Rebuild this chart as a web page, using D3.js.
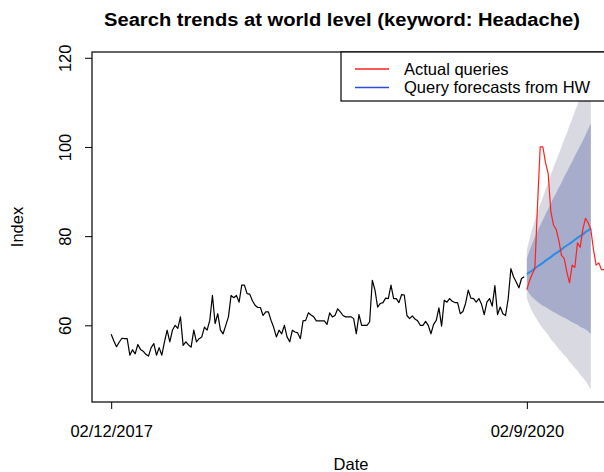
<!DOCTYPE html>
<html>
<head>
<meta charset="utf-8">
<script src="https://cdn.jsdelivr.net/npm/d3@7"></script>
<style>
  html, body { margin: 0; padding: 0; background: #ffffff; }
  svg { display: block; }
  text { font-family: "Liberation Sans", Arial, Helvetica, sans-serif; fill: #000; }
</style>
</head>
<body>
<svg id="chart" width="604" height="472"></svg>
<script>
// Weekly search index (keyword: Headache), weeks counted from 02/12/2017
const historyValues = [
  58, 56.5, 55.2, 56.2, 57.1, 57, 57, 53.3, 54.5, 53.6,
  55.7, 54.6, 54.2, 53.5, 53.1, 55, 55.9, 53.3, 55, 53.3,
  56.3, 58.9, 56.3, 58.9, 60, 59.3, 61.9, 55.5, 56.3, 55.6,
  55.1, 58.9, 56.3, 57, 57.4, 59.6, 58.9, 61.1, 66.7, 60.4,
  62.6, 58.9, 58.1, 60, 61.9, 66.7, 66.2, 66.7, 65.2, 69,
  69, 67.1, 67, 65.5, 64.5, 64, 64, 62.2, 63, 63,
  61.1, 59.5, 57.4, 58.9, 58.1, 60, 57.4, 56.3, 58.9, 58.5,
  58.3, 57, 61, 61.1, 62.8, 62.3, 61.9, 61, 61, 61,
  61, 60.2, 62.8, 61.9, 62.2, 63.7, 63, 62.2, 61.9, 61.9,
  61.9, 61.5, 58.1, 62.4, 60, 60, 60, 60.8, 70.1, 67.9,
  64.1, 64.9, 65.1, 66.1, 66, 69, 66, 66, 65.1, 66.9,
  66.8, 62.2, 61.5, 62.1, 61.4, 61, 60, 60, 60.9, 60,
  58.1, 60.2, 61.1, 63.9, 59.8, 65.6, 65.2, 66, 65.4, 65.1,
  65.1, 62.6, 63.1, 64.9, 67.9, 66.1, 66, 65.2, 66, 64.7,
  62.4, 65.2, 66, 64.3, 68.9, 62.4, 64.1, 62.6, 62.2, 66,
  72.7, 70.9, 69.7, 68.4, 70.5, 70.9
];

// Forecast horizon starts at week 156 (02/9/2020)
const forecastStart = 156;

// Actual queries observed after the forecast origin
const actualValues = [
  68, 70, 71.5, 72.7, 87, 100, 100, 96.5, 94, 85.5,
  82.5, 81.5, 79, 75.7, 75, 72, 69.5, 73.5, 73, 78.5,
  77.5, 81.5, 84, 83, 81.5, 77, 73.5, 74, 72.5, 72.5, 72.5
];

// Holt-Winters point forecasts
const forecastMean = [
  71.5, 71.9, 72.3, 72.8, 73.2, 73.6, 74.0, 74.5, 74.9, 75.3,
  75.8, 76.2, 76.6, 77.0, 77.5, 77.9, 78.3, 78.7, 79.2, 79.6,
  80.0, 80.4, 80.9, 81.3, 81.7
];

// 80% prediction interval
const lower80 = [
  68.0, 67.0, 66.3, 65.8, 65.3, 64.8, 64.4, 64.1, 63.7, 63.3,
  63.0, 62.7, 62.3, 62.0, 61.7, 61.4, 61.0, 60.7, 60.4, 60.1,
  59.7, 59.4, 59.1, 58.6, 58.1
];
const upper80 = [
  75.0, 76.8, 78.3, 79.8, 81.1, 82.4, 83.6, 84.9, 86.1, 87.3,
  88.6, 89.7, 90.9, 92.0, 93.3, 94.4, 95.6, 96.7, 98.0, 99.1,
  100.3, 101.4, 102.7, 104.0, 105.3
];

// 95% prediction interval
const lower95 = [
  66.1, 64.4, 63.1, 62.1, 61.1, 60.1, 59.3, 58.6, 57.8, 56.9,
  56.2, 55.5, 54.7, 54.0, 53.3, 52.7, 51.8, 51.2, 50.4, 49.8,
  48.9, 48.3, 47.5, 46.6, 45.6
];
const upper95 = [
  76.9, 79.4, 81.5, 83.5, 85.3, 87.1, 88.7, 90.4, 92.0, 93.7,
  95.4, 96.9, 98.5, 100.0, 101.7, 103.1, 104.8, 106.2, 108.0, 109.4,
  111.1, 112.5, 114.3, 116.0, 117.8
];

const xTickWeeks = [0, 156];
const xTickLabels = ["02/12/2017", "02/9/2020"];
const yTicks = [60, 80, 100, 120];

const titleText = "Search trends at world level (keyword: Headache)";
const xTitle = "Date";
const yTitle = "Index";
const legendLabels = ["Actual queries", "Query forecasts from HW"];

const colors = {
  history: "#000000",
  actual: "#ff2020",
  forecast: "#2a8ee4",
  legendForecast: "#2a4fe0",
  band80: "#a8accb",
  band95: "#d9d9e1"
};

const labelSize = 16.5;

// ---- layout ----
const svg = d3.select("#chart");
const plot = { left: 92, right: 610, top: 52, bottom: 402 };

const x = d3.scaleLinear().domain([-7.2, 187.2]).range([plot.left, plot.right]);
const y = d3.scaleLinear().domain([42.8, 121.3]).range([plot.bottom, plot.top]);

svg.append("defs").append("clipPath").attr("id", "plotClip")
  .append("rect")
  .attr("x", plot.left).attr("y", plot.top)
  .attr("width", plot.right - plot.left).attr("height", plot.bottom - plot.top);

const g = svg.append("g").attr("clip-path", "url(#plotClip)");

const historyData = historyValues.map((v, i) => ({ w: i, v }));
const actualData = actualValues.map((v, i) => ({ w: forecastStart + i, v }));
const fcData = forecastMean.map((v, i) => ({
  w: forecastStart + i, v,
  lo80: lower80[i], hi80: upper80[i], lo95: lower95[i], hi95: upper95[i]
}));

// prediction bands
g.append("path").datum(fcData)
  .attr("fill", colors.band95)
  .attr("d", d3.area().x(d => x(d.w)).y0(d => y(d.lo95)).y1(d => y(d.hi95)));
g.append("path").datum(fcData)
  .attr("fill", colors.band80)
  .attr("d", d3.area().x(d => x(d.w)).y0(d => y(d.lo80)).y1(d => y(d.hi80)));

const line = d3.line().x(d => x(d.w)).y(d => y(d.v));

g.append("path").datum(historyData)
  .attr("fill", "none").attr("stroke", colors.history).attr("stroke-width", 1.2)
  .attr("stroke-linejoin", "round")
  .attr("d", line);

g.append("path").datum(fcData)
  .attr("fill", "none").attr("stroke", colors.forecast).attr("stroke-width", 2)
  .attr("d", line);

g.append("path").datum(actualData)
  .attr("fill", "none").attr("stroke", colors.actual).attr("stroke-width", 1.2)
  .attr("stroke-linejoin", "round")
  .attr("d", line);

// ---- axes ----
const xAxis = d3.axisBottom(x)
  .tickValues(xTickWeeks)
  .tickFormat((d, i) => xTickLabels[i])
  .tickSize(7).tickPadding(16);
const xg = svg.append("g").attr("transform", `translate(0,${plot.bottom})`).call(xAxis);
xg.select(".domain").remove();
xg.selectAll("line").attr("stroke", "#000");
xg.selectAll("text").attr("font-size", labelSize).attr("font-family", "Liberation Sans, Arial, sans-serif");

const yAxis = d3.axisLeft(y).tickValues(yTicks).tickSize(7).tickFormat(d3.format("d"));
const yg = svg.append("g").attr("transform", `translate(${plot.left},0)`).call(yAxis);
yg.select(".domain").remove();
yg.selectAll("line").attr("stroke", "#000");
yg.selectAll("text")
  .attr("font-size", labelSize)
  .attr("font-family", "Liberation Sans, Arial, sans-serif")
  .attr("text-anchor", "middle")
  .attr("dy", null)
  .attr("x", null)
  .attr("transform", "translate(-27,0) rotate(-90)")
  .attr("y", 0)
  .attr("dominant-baseline", "central");

// plot frame (left, top, bottom visible)
svg.append("rect")
  .attr("x", plot.left).attr("y", plot.top)
  .attr("width", plot.right - plot.left).attr("height", plot.bottom - plot.top)
  .attr("fill", "none").attr("stroke", "#000").attr("stroke-width", 1.2);

// ---- legend ----
const lg = svg.append("g");
lg.append("rect")
  .attr("x", 341).attr("y", plot.top)
  .attr("width", plot.right - 341).attr("height", 49)
  .attr("fill", "#fff").attr("stroke", "#000").attr("stroke-width", 1.2);
[colors.actual, colors.legendForecast].forEach((c, i) => {
  const ly = 69 + i * 18.5;
  lg.append("line").attr("x1", 355).attr("x2", 389).attr("y1", ly).attr("y2", ly)
    .attr("stroke", c).attr("stroke-width", 1.3);
  lg.append("text").attr("x", 404).attr("y", ly + 5.5)
    .attr("font-size", labelSize).text(legendLabels[i]);
});

// ---- titles ----
svg.append("text").attr("x", 342).attr("y", 26)
  .attr("text-anchor", "middle").attr("font-size", 18).attr("font-weight", "bold")
  .attr("textLength", 476).attr("lengthAdjust", "spacingAndGlyphs")
  .text(titleText);
svg.append("text").attr("x", (plot.left + plot.right) / 2).attr("y", 470)
  .attr("text-anchor", "middle").attr("font-size", labelSize).text(xTitle);
svg.append("text")
  .attr("transform", `translate(23,${(plot.top + plot.bottom) / 2}) rotate(-90)`)
  .attr("text-anchor", "middle").attr("font-size", labelSize).text(yTitle);
</script>
</body>
</html>
